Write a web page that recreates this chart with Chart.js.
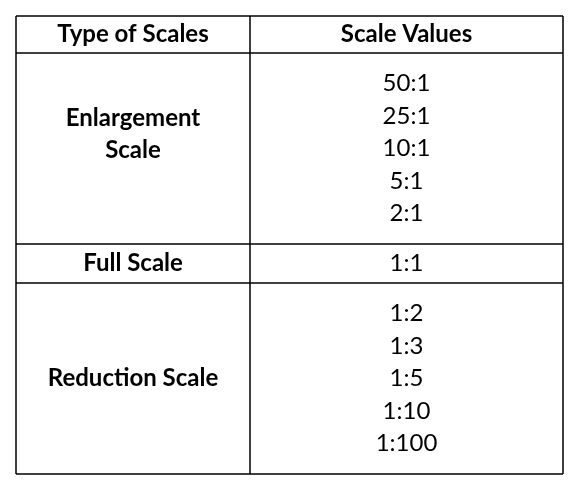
<!DOCTYPE html>
<html><head><meta charset="utf-8">
<script src="https://cdn.jsdelivr.net/npm/chart.js@4"></script>
<style>html,body{margin:0;background:#fff}#c{display:block}</style>
</head><body>
<div style="width:577px;height:486px"><canvas id="c"></canvas></div>
<script>
const headers = ['Type of Scales', 'Scale Values'];
const scaleTypes = ['Enlargement\nScale', 'Full Scale', 'Reduction Scale'];
const scaleValues = [
  ['50:1', '25:1', '10:1', '5:1', '2:1'],
  ['1:1'],
  ['1:2', '1:3', '1:5', '1:10', '1:100']
];

// table geometry (in scale units = pixels)
const tLeft = 16, tRight = 563, tSplit = 250, tTop = 16, headH = 37, lineH = 32.5;
const rowH = v => v.length * lineH + (v.length > 1 ? 28.5 : 6.5);
const bounds = [tTop, tTop + headH];
scaleValues.forEach(v => bounds.push(bounds[bounds.length - 1] + rowH(v)));
const tBottom = bounds[bounds.length - 1];

const borderSets = [];
bounds.forEach(y => borderSets.push([{x: tLeft, y}, {x: tRight, y}]));
[tLeft, tSplit, tRight].forEach(x => borderSets.push([{x, y: tTop}, {x, y: tBottom}]));

const tablePlugin = {
  id: 'tableText',
  afterDatasetsDraw(chart) {
    const {ctx, scales: {x, y}} = chart;
    ctx.save();
    ctx.fillStyle = '#000';
    ctx.textAlign = 'center';
    ctx.textBaseline = 'middle';
    const c1 = (tLeft + tSplit) / 2, c2 = (tSplit + tRight) / 2;
    ctx.font = 'bold 24px Lato';
    ctx.fillText(headers[0], x.getPixelForValue(c1), y.getPixelForValue(tTop + headH / 2));
    ctx.fillText(headers[1], x.getPixelForValue(c2), y.getPixelForValue(tTop + headH / 2));
    scaleValues.forEach((vals, i) => {
      const mid = (bounds[i + 1] + bounds[i + 2]) / 2;
      ctx.font = 'bold 24px Lato';
      const lines = scaleTypes[i].split('\n');
      lines.forEach((t, j) => {
        ctx.fillText(t, x.getPixelForValue(c1), y.getPixelForValue(mid + (j - (lines.length - 1) / 2) * lineH - (lines.length > 1 ? 14 : 0)));
      });
      ctx.font = '24px Lato';
      vals.forEach((t, j) => {
        ctx.fillText(t, x.getPixelForValue(c2), y.getPixelForValue(mid + (j - (vals.length - 1) / 2) * lineH));
      });
    });
    ctx.restore();
  }
};

new Chart(document.getElementById('c'), {
  type: 'line',
  data: {
    datasets: borderSets.map(d => ({
      data: d, borderColor: '#000', borderWidth: 1.5, pointRadius: 0, fill: false
    }))
  },
  options: {
    animation: false,
    responsive: true,
    maintainAspectRatio: false,
    layout: {padding: 0},
    plugins: {legend: {display: false}, tooltip: {enabled: false}},
    scales: {
      x: {type: 'linear', min: 0, max: 577, display: false},
      y: {type: 'linear', min: 0, max: 486, reverse: true, display: false}
    }
  },
  plugins: [tablePlugin]
});
</script>
</body></html>
